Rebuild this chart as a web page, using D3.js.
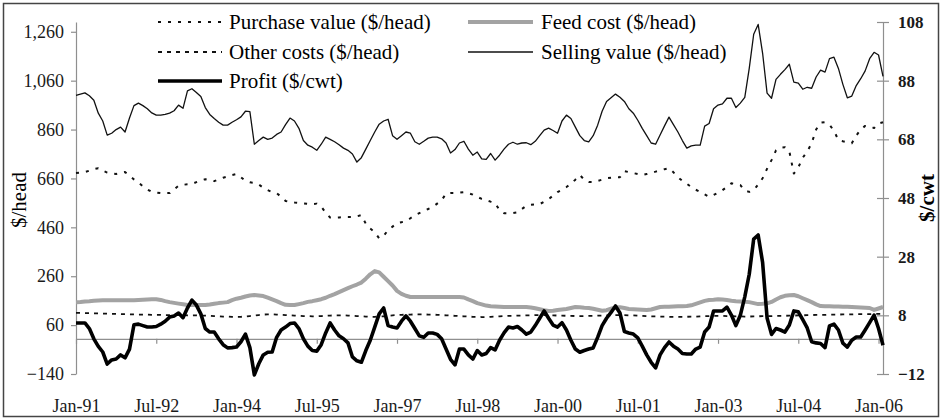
<!DOCTYPE html>
<html>
<head>
<meta charset="utf-8">
<script src="https://cdn.jsdelivr.net/npm/d3@7"></script>
<style>
  body { margin: 0; background: #fff; }
  .axis path, .axis line { stroke: #8f8f8f; stroke-width: 1.2; }
</style>
</head>
<body>
<div id="chart"></div>
<script>
// monthly data, Jan-91 .. Feb-06 (one row = one year)
var sellingValue = [
  1000,1005,1010,998,980,927,895,837,845,860,870,850,
  907,958,968,958,945,928,919,919,922,927,937,960,
  947,1018,1027,1012,995,950,922,905,890,878,878,890,
  900,912,935,933,800,815,829,820,825,840,850,880,
  907,895,865,815,796,788,775,800,829,820,810,798,
  784,775,760,727,745,780,815,850,882,895,902,835,
  820,835,850,845,810,800,812,825,829,829,822,805,
  764,778,805,812,780,755,768,740,738,762,735,755,
  780,800,808,800,805,806,798,812,835,858,866,856,
  845,895,919,905,870,835,815,810,835,878,935,975,
  990,1005,992,975,945,927,898,865,835,805,800,838,
  875,911,880,850,815,784,793,796,796,874,885,945,
  960,965,988,988,950,968,992,1110,1250,1290,1172,1009,
  988,1065,1086,1105,1127,1054,1050,1025,1033,1029,1075,1103,
  1095,1150,1156,1110,1045,990,997,1040,1068,1100,1150,1176,
  1165,1078
];

var purchaseValue = [
  682,684,686,692,698,702,692,684,680,678,682,686,
  672,656,643,628,615,605,602,600,600,600,615,630,
  634,636,637,645,652,657,653,649,656,663,668,674,
  678,665,650,644,642,635,622,612,604,600,585,568,
  565,562,560,558,556,555,557,545,520,500,499,500,
  502,502,502,505,510,475,455,440,415,425,449,463,
  477,481,485,497,509,518,526,535,543,557,571,598,
  600,600,602,604,600,594,585,576,571,565,560,530,
  518,518,518,521,535,548,552,554,555,565,575,590,
  604,614,625,638,655,674,655,645,645,650,655,661,
  663,665,665,690,686,682,678,674,678,682,688,693,
  698,702,685,665,650,638,625,614,605,595,585,592,
  602,612,625,640,637,633,610,605,612,635,661,700,
  735,775,786,788,770,680,705,745,770,804,860,888,
  890,880,855,817,812,808,804,835,860,875,874,866,
  885,890
];

var feedCost = [
  154,155,157,158,160,161,162,162,162,162,162,162,
  162,162,163,164,165,166,166,163,158,154,151,148,
  145,142,142,142,142,142,144,147,150,152,154,162,
  168,172,177,181,183,181,179,172,165,158,150,143,
  142,142,146,150,155,158,162,166,172,180,187,195,
  203,211,219,226,234,250,268,281,276,258,240,222,
  200,188,180,175,175,175,175,175,175,175,175,175,
  175,175,175,173,165,158,150,145,140,137,136,135,
  134,134,134,134,134,134,132,129,125,121,118,119,
  122,124,126,130,134,133,131,130,127,123,119,121,
  127,132,133,130,126,125,124,123,122,124,129,134,
  135,135,136,137,137,138,141,147,153,159,163,164,
  166,165,163,160,158,157,156,154,150,146,147,149,
  155,165,174,180,182,183,178,170,162,154,145,138,
  137,137,136,136,135,135,134,133,132,131,130,122,
  128,134
];

var otherCosts = [
  110,110,109,109,108,108,107,107,106,106,105,105,
  104,104,103,103,103,102,102,102,101,101,101,101,
  101,100,100,100,99,99,98,97,96,95,95,94,
  94,94,95,97,99,101,103,104,104,103,102,101,
  100,99,98,97,97,96,96,97,98,99,100,100,
  100,99,98,97,96,95,94,94,95,96,98,100,
  101,102,103,103,104,104,104,103,103,102,101,100,
  99,98,97,96,95,94,94,93,93,94,95,96,
  97,98,98,99,99,100,100,101,101,101,100,100,
  99,99,98,98,97,97,97,98,98,99,99,100,
  100,101,101,101,100,100,99,98,97,96,96,95,
  95,94,94,94,94,94,95,95,96,97,97,98,
  98,98,97,97,96,96,95,95,96,96,97,97,
  97,98,98,98,99,99,100,100,101,101,102,102,
  102,103,103,103,104,104,104,105,105,105,105,106,
  106,106
];

// profit is in $/cwt (right axis)
var profit = [
  5.4,5.4,5.4,3.5,0,-2.6,-4.5,-8.6,-7.2,-6.9,-5.5,-6.5,
  -3.5,4.8,5.0,4.5,4.0,4.0,4.2,5.0,6.0,7.4,7.8,8.8,
  7.2,10.5,13.2,11.5,8.5,3.5,2.3,2.3,0,-2.0,-3.1,-3.0,
  -2.8,-1.0,1.6,-3,-12.3,-8.5,-5.5,-4.6,-4.5,0.5,3,4,
  5.2,5.4,3.5,0,-2.5,-4.0,-4.2,-2.0,2.0,5.4,3.0,1.0,
  0,-1.4,-6.2,-7.5,-8.0,-4,-0.5,4,8.5,10.5,4.5,4.0,
  3.7,6.0,7.8,6.0,3.5,1,0.5,2.0,2.0,1.5,0,-3.5,
  -7,-8.9,-3.5,-3.5,-5.5,-6.9,-4,-5.5,-5,-3,-3.8,-0.5,
  2.0,4.0,3.7,4.2,3.0,1.6,2.3,4.5,7.0,9.5,7,4.7,
  4.0,5.5,3,-0.5,-3.5,-4.6,-4.0,-3.5,-3.1,0.5,4.5,7.0,
  9.0,11.2,8.8,2.5,2.0,1.6,0.3,-2.5,-5.5,-8,-9.9,-5.5,
  -3,-1.1,-2.5,-3.5,-5,-5.2,-5.2,-3.5,-2.8,2.3,4.0,9.5,
  9.5,9.5,10.8,8.1,4.5,8,14.3,22,34,35.4,26,7.1,
  1.5,3.5,3.0,2.3,4.7,9.5,9.2,6.5,3.7,-1.0,-1.4,-1.6,
  -3.0,4.4,5.0,3.0,-1.5,-2.8,-0.5,0.6,0.6,3.0,5.5,8.1,
  3.5,-2.2
];

var xTickLabels = ["Jan-91","Jul-92","Jan-94","Jul-95","Jan-97","Jul-98","Jan-00","Jul-01","Jan-03","Jul-04","Jan-06"];
var leftTicks = [-140, 60, 260, 460, 660, 860, 1060, 1260];
var rightTicks = [-12, 8, 28, 48, 68, 88, 108];

var legendItems = [
  { name: "Purchase value ($/head)", key: "purchase" },
  { name: "Other costs ($/head)", key: "other" },
  { name: "Profit ($/cwt)", key: "profit" },
  { name: "Feed cost ($/head)", key: "feed" },
  { name: "Selling value ($/head)", key: "selling" }
];

// line looks
var styles = {
  purchase: { color: "#111", width: 2, dash: "3,7" },
  other:    { color: "#111", width: 1.8, dash: "4,5" },
  profit:   { color: "#000", width: 3.6, dash: null },
  feed:     { color: "#a3a3a3", width: 4, dash: null },
  selling:  { color: "#111", width: 1.3, dash: null }
};

var serif = "'Liberation Serif', 'FreeSerif', 'Times New Roman', serif";

var svgWidth = 943;
var svgHeight = 420;

var svg = d3.select("#chart")
  .append("svg")
  .attr("width", svgWidth)
  .attr("height", svgHeight)
  .style("font-family", serif);

// outer frame
svg.append("rect")
  .attr("x", 3.5).attr("y", 3.5)
  .attr("width", 935).attr("height", 413)
  .attr("fill", "none")
  .attr("stroke", "#444")
  .attr("stroke-width", 1.5);

// Scales
var plotLeft = 76, plotRight = 883, plotTop = 22, plotBottom = 374;

var xScale = d3.scaleLinear()
  .domain([0, sellingValue.length - 1])
  .range([plotLeft, plotRight]);

var yLeft = d3.scaleLinear()
  .domain([-140, 1300])
  .range([plotBottom, plotTop]);

var yRight = d3.scaleLinear()
  .domain([-12, 108])
  .range([plotBottom, plotTop]);

// Axes
var leftAxis = d3.axisLeft(yLeft)
  .tickValues(leftTicks)
  .tickFormat(d3.format(","))
  .tickSizeInner(5)
  .tickSizeOuter(0)
  .tickPadding(7);

svg.append("g")
  .attr("class", "axis left")
  .attr("transform", `translate(${plotLeft}, 0)`)
  .call(leftAxis);

var rightAxis = d3.axisRight(yRight)
  .tickValues(rightTicks)
  .tickSizeInner(6)
  .tickSizeOuter(0)
  .tickPadding(9);

var rightG = svg.append("g")
  .attr("class", "axis right")
  .attr("transform", `translate(${plotRight}, 0)`)
  .call(rightAxis);
// ticks cross the axis line
rightG.selectAll(".tick line").attr("x1", -6);

var bottomAxis = d3.axisBottom(xScale)
  .tickValues(d3.range(0, sellingValue.length, 18))
  .tickFormat((d, i) => xTickLabels[i])
  .tickSizeInner(5)
  .tickSizeOuter(0)
  .tickPadding(55);

svg.append("g")
  .attr("class", "axis bottom")
  .attr("transform", `translate(0, ${yRight(0)})`)
  .call(bottomAxis);

// d3 axes put font-family="sans-serif" on their groups, override it
svg.selectAll(".axis")
  .attr("font-family", serif)
  .attr("font-size", 18);
svg.selectAll(".axis text").style("fill", "#1a1a1a");
rightG.selectAll("text").style("font-weight", "bold").style("font-size", "17px");

// axis titles
svg.append("text")
  .attr("transform", "translate(26, 200) rotate(-90)")
  .attr("text-anchor", "middle")
  .style("font-size", "21px")
  .text("$/head");

svg.append("text")
  .attr("transform", "translate(934, 198) rotate(-90)")
  .attr("text-anchor", "middle")
  .style("font-size", "21px")
  .style("font-weight", "bold")
  .text("$/cwt");

// Lines
var lineLeft = d3.line()
  .x((d, i) => xScale(i))
  .y(d => yLeft(d));

var lineRight = d3.line()
  .x((d, i) => xScale(i))
  .y(d => yRight(d));

var series = [
  { key: "feed", data: feedCost, line: lineLeft },
  { key: "other", data: otherCosts, line: lineLeft },
  { key: "purchase", data: purchaseValue, line: lineLeft },
  { key: "selling", data: sellingValue, line: lineLeft },
  { key: "profit", data: profit, line: lineRight }
];

series.forEach(function(s) {
  var st = styles[s.key];
  svg.append("path")
    .datum(s.data)
    .attr("d", s.line)
    .attr("fill", "none")
    .attr("stroke", st.color)
    .attr("stroke-width", st.width)
    .attr("stroke-linejoin", "round")
    .attr("stroke-dasharray", st.dash);
});

// Legend: two columns
var legendCols = [{ x1: 158, x2: 222, tx: 229 }, { x1: 468, x2: 533, tx: 541 }];
var legendRows = [22, 52, 81];

legendItems.forEach(function(item, i) {
  var col = legendCols[i < 3 ? 0 : 1];
  var y = legendRows[i < 3 ? i : i - 3];
  var st = styles[item.key];
  svg.append("line")
    .attr("x1", col.x1).attr("x2", col.x2)
    .attr("y1", y).attr("y2", y)
    .attr("stroke", st.color)
    .attr("stroke-width", st.width)
    .attr("stroke-dasharray", st.dash);
  svg.append("text")
    .attr("x", col.tx)
    .attr("y", y)
    .attr("dy", "0.33em")
    .style("font-size", "21px")
    .text(item.name);
});
</script>
</body>
</html>
